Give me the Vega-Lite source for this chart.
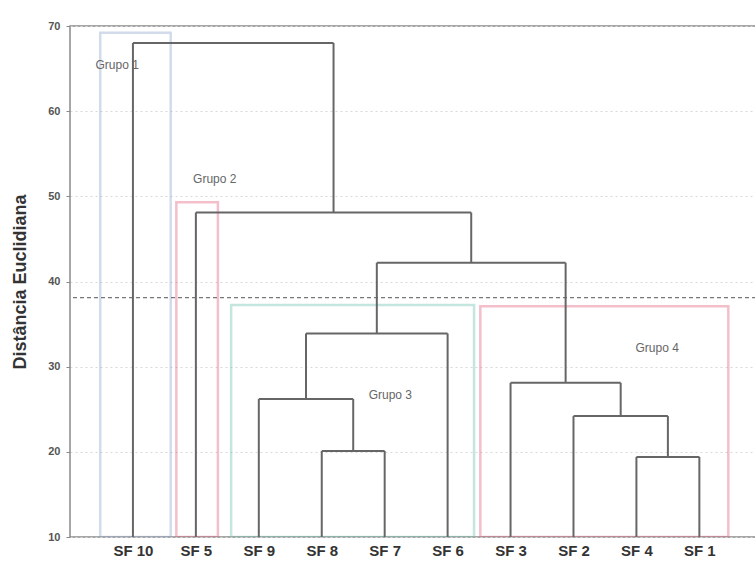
{
  "$schema": "https://vega.github.io/schema/vega-lite/v6.json",
  "width": 686,
  "height": 511,
  "autosize": {"type": "none"},
  "padding": {"left": 70, "top": 26, "right": 0, "bottom": 25},
  "background": "white",
  "config": {
    "view": {"stroke": "#8a8a8a", "strokeWidth": 1.5},
    "font": "Liberation Sans"
  },
  "datasets": {
    "segments": [
      {"x": 4, "x2": 4, "y": 10, "y2": 20.1},
      {"x": 5, "x2": 5, "y": 10, "y2": 20.1},
      {"x": 4, "x2": 5, "y": 20.1, "y2": 20.1},
      {"x": 3, "x2": 3, "y": 10, "y2": 26.2},
      {"x": 4.5, "x2": 4.5, "y": 20.1, "y2": 26.2},
      {"x": 3, "x2": 4.5, "y": 26.2, "y2": 26.2},
      {"x": 3.75, "x2": 3.75, "y": 26.2, "y2": 33.9},
      {"x": 6, "x2": 6, "y": 10, "y2": 33.9},
      {"x": 3.75, "x2": 6, "y": 33.9, "y2": 33.9},
      {"x": 9, "x2": 9, "y": 10, "y2": 19.4},
      {"x": 10, "x2": 10, "y": 10, "y2": 19.4},
      {"x": 9, "x2": 10, "y": 19.4, "y2": 19.4},
      {"x": 8, "x2": 8, "y": 10, "y2": 24.2},
      {"x": 9.5, "x2": 9.5, "y": 19.4, "y2": 24.2},
      {"x": 8, "x2": 9.5, "y": 24.2, "y2": 24.2},
      {"x": 7, "x2": 7, "y": 10, "y2": 28.1},
      {"x": 8.75, "x2": 8.75, "y": 24.2, "y2": 28.1},
      {"x": 7, "x2": 8.75, "y": 28.1, "y2": 28.1},
      {"x": 4.875, "x2": 4.875, "y": 33.9, "y2": 42.2},
      {"x": 7.875, "x2": 7.875, "y": 28.1, "y2": 42.2},
      {"x": 4.875, "x2": 7.875, "y": 42.2, "y2": 42.2},
      {"x": 2, "x2": 2, "y": 10, "y2": 48.1},
      {"x": 6.375, "x2": 6.375, "y": 42.2, "y2": 48.1},
      {"x": 2, "x2": 6.375, "y": 48.1, "y2": 48.1},
      {"x": 1, "x2": 1, "y": 10, "y2": 68.0},
      {"x": 4.1875, "x2": 4.1875, "y": 48.1, "y2": 68.0},
      {"x": 1, "x2": 4.1875, "y": 68.0, "y2": 68.0}
    ],
    "groups": [
      {"grupo": "Grupo 1", "x": 0.48, "x2": 1.6, "y": 10, "y2": 69.2, "c": "g1", "lx": 0.75, "ly": 65.4},
      {"grupo": "Grupo 2", "x": 1.69, "x2": 2.35, "y": 10, "y2": 49.3, "c": "g2", "lx": 2.3, "ly": 52.0},
      {"grupo": "Grupo 3", "x": 2.56, "x2": 6.42, "y": 10, "y2": 37.25, "c": "g3", "lx": 5.09, "ly": 26.7},
      {"grupo": "Grupo 4", "x": 6.52, "x2": 10.46, "y": 10, "y2": 37.1, "c": "g4", "lx": 9.33, "ly": 32.2}
    ],
    "cut": [{"y": 38.1}]
  },
  "layer": [
    {
      "data": {"name": "groups"},
      "mark": {"type": "rect", "fill": null, "strokeWidth": 2.5, "strokeOpacity": 0.4, "clip": true},
      "encoding": {
        "x": {"field": "x", "type": "quantitative", "scale": {"domain": [0, 10.9], "nice": false, "zero": false},
          "axis": {"values": [1,2,3,4,5,6,7,8,9,10], "labelExpr": "['', 'SF 10', 'SF 5', 'SF 9', 'SF 8', 'SF 7', 'SF 6', 'SF 3', 'SF 2', 'SF 4', 'SF 1'][datum.value]",
            "title": null, "grid": false, "ticks": false, "domain": false, "labelFontSize": 15, "labelFontWeight": "bold", "labelColor": "#333", "labelPadding": 6, "labelFlush": false}},
        "x2": {"field": "x2"},
        "y": {"field": "y", "type": "quantitative", "scale": {"domain": [10, 70], "nice": false, "zero": false},
          "axis": {"values": [10,20,30,40,50,60,70], "title": "Distância Euclidiana", "titleFontSize": 18, "titleFontWeight": "bold", "titleColor": "#333", "titlePadding": 18,
            "labelFontSize": 11, "labelFontWeight": "bold", "labelColor": "#555", "labelPadding": 6, "tickSize": 4, "tickColor": "#888", "domain": false,
            "grid": true, "gridDash": [2, 3], "gridColor": "#d8d8d8", "gridWidth": 1}},
        "y2": {"field": "y2"},
        "stroke": {"field": "c", "type": "nominal", "scale": {"domain": ["g1", "g2", "g3", "g4"], "range": ["#8fa6cc", "#e0607a", "#6fbfb0", "#e0607a"]}, "legend": null}
      }
    },
    {
      "data": {"name": "cut"},
      "mark": {"type": "rule", "stroke": "#777", "strokeWidth": 1.2, "strokeDash": [4, 3]},
      "encoding": {"y": {"field": "y", "type": "quantitative"}}
    },
    {
      "data": {"name": "segments"},
      "mark": {"type": "rule", "stroke": "#666", "strokeWidth": 2},
      "encoding": {
        "x": {"field": "x", "type": "quantitative"},
        "x2": {"field": "x2"},
        "y": {"field": "y", "type": "quantitative"},
        "y2": {"field": "y2"}
      }
    },
    {
      "data": {"name": "groups"},
      "mark": {"type": "text", "fontSize": 12, "fill": "#666", "align": "center", "baseline": "middle"},
      "encoding": {
        "x": {"field": "lx", "type": "quantitative"},
        "y": {"field": "ly", "type": "quantitative"},
        "text": {"field": "grupo"}
      }
    }
  ]
}
